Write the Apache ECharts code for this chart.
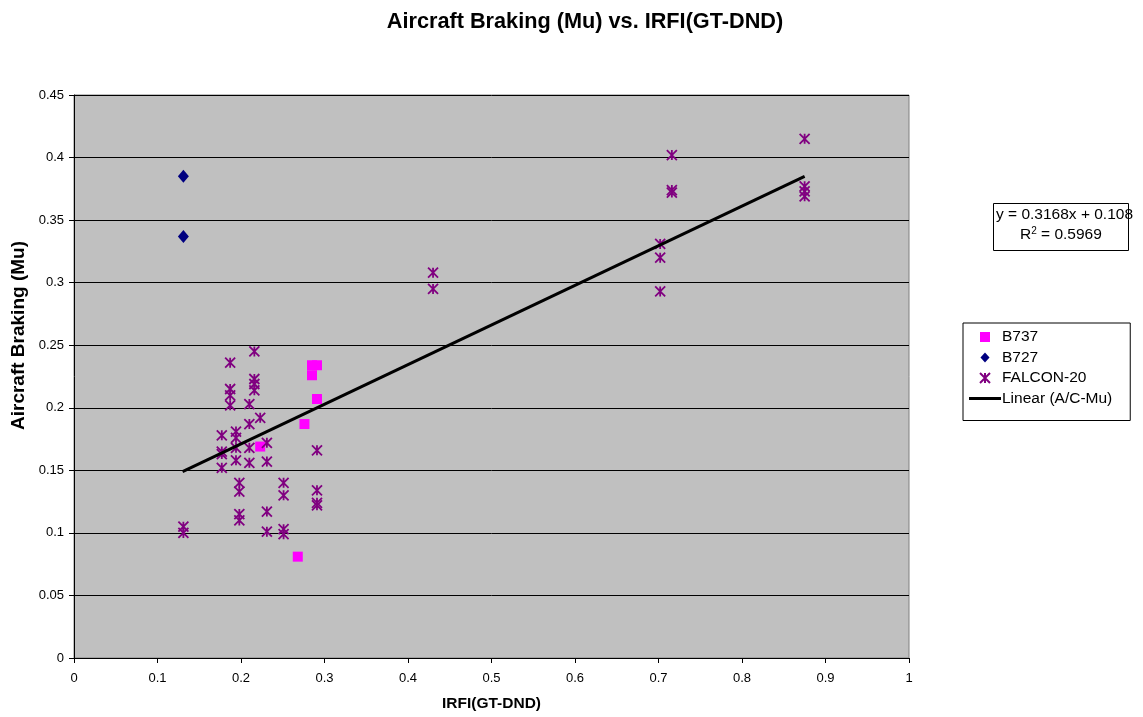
<!DOCTYPE html>
<html>
<head>
<meta charset="utf-8">
<script src="https://cdn.jsdelivr.net/npm/echarts@6/dist/echarts.min.js"></script>
<style>
html,body{margin:0;padding:0;background:#fff;}
#chart{width:1143px;height:717px;}
</style>
</head>
<body>
<div id="chart"></div>
<script>
const b737X = [0.285, 0.291, 0.285, 0.291, 0.276, 0.223, 0.268];
const b737Y = [0.234, 0.234, 0.226, 0.207, 0.187, 0.169, 0.081];

const b727X = [0.131, 0.131];
const b727Y = [0.385, 0.337];

const falconX = [0.131, 0.131, 0.187, 0.187, 0.187, 0.187, 0.177, 0.177, 0.177, 0.177,
  0.194, 0.194, 0.194, 0.194, 0.198, 0.198, 0.198, 0.198, 0.210, 0.210,
  0.210, 0.210, 0.216, 0.216, 0.216, 0.216, 0.223, 0.231, 0.231, 0.231,
  0.231, 0.251, 0.251, 0.251, 0.251, 0.291, 0.291, 0.291, 0.291, 0.430,
  0.430, 0.702, 0.702, 0.702, 0.716, 0.716, 0.716, 0.875, 0.875, 0.875, 0.875];
const falconY = [0.105, 0.100, 0.236, 0.215, 0.210, 0.202, 0.178, 0.165, 0.163, 0.152,
  0.181, 0.176, 0.168, 0.158, 0.140, 0.133, 0.115, 0.110, 0.203, 0.187,
  0.168, 0.156, 0.245, 0.223, 0.219, 0.214, 0.192, 0.172, 0.157, 0.117,
  0.101, 0.140, 0.130, 0.103, 0.099, 0.166, 0.134, 0.124, 0.122, 0.308,
  0.295, 0.331, 0.320, 0.293, 0.402, 0.374, 0.372, 0.415, 0.377, 0.373, 0.369];

const trendX = [0.13, 0.875];
const trendY = [0.149, 0.385];

const eqLine1 = 'y = 0.3168x + 0.108';
const eqR2 = '0.5969';

const pairs = (xs, ys) => xs.map((x, i) => [x, ys[i]]);

const asterisk = 'path://M0,0L10,10M10,0L0,10M5,0L5,10M0,5M10,5';
const FONT = 'Liberation Sans, Arial, sans-serif';

const chart = echarts.init(document.getElementById('chart'), null, {renderer: 'canvas'});
chart.setOption({
  animation: false,
  backgroundColor: '#ffffff',
  textStyle: {fontFamily: FONT},
  title: {
    text: 'Aircraft Braking (Mu) vs. IRFI(GT-DND)',
    left: 580, top: 6, textAlign: 'center',
    textStyle: {fontFamily: FONT, fontSize: 21.7, fontWeight: 'bold', color: '#000'}
  },
  grid: {
    left: 74, top: 95, width: 835, height: 564,
    show: true, backgroundColor: '#C0C0C0', borderColor: '#808080', borderWidth: 1
  },
  xAxis: {
    type: 'value', min: 0, max: 1, interval: 0.1,
    name: 'IRFI(GT-DND)', nameLocation: 'middle', nameGap: 38,
    nameTextStyle: {fontFamily: FONT, fontSize: 15.5, fontWeight: 'bold', color: '#000'},
    axisLine: {show: true, onZero: false, lineStyle: {color: '#000', width: 1}},
    axisTick: {show: true, length: 5, inside: false, lineStyle: {color: '#000'}},
    axisLabel: {fontFamily: FONT, fontSize: 13, color: '#000', margin: 14},
    splitLine: {show: false}
  },
  yAxis: {
    type: 'value', min: 0, max: 0.45, interval: 0.05,
    name: 'Aircraft Braking (Mu)', nameLocation: 'middle', nameGap: 46, nameRotate: 90,
    nameTextStyle: {fontFamily: FONT, fontSize: 19, fontWeight: 'bold', color: '#000',
      padding: [0, 0, 0, 82]},
    axisLine: {show: true, onZero: false, lineStyle: {color: '#000', width: 1}},
    axisTick: {show: true, length: 5, lineStyle: {color: '#000'}},
    axisLabel: {fontFamily: FONT, fontSize: 13, color: '#000', margin: 10,
      formatter: v => String(parseFloat(v.toFixed(2)))},
    splitLine: {show: true, lineStyle: {color: '#000', width: 1}}
  },
  legend: {
    orient: 'vertical', left: 963, top: 323,
    itemWidth: 32, itemHeight: 10, itemGap: 4.5,
    padding: [6, 18, 14, 6],
    borderColor: '#000', borderWidth: 1, backgroundColor: '#fff',
    textStyle: {fontFamily: FONT, fontSize: 15.5, color: '#000', padding: [0, 0, 0, -4]},
    data: [
      {name: 'B737', icon: 'path://M0,0L9,0L9,9L0,9Z'},
      {name: 'B727', icon: 'path://M5,0L10,5.5L5,11L0,5.5Z'},
      {name: 'FALCON-20'},
      {name: 'Linear (A/C-Mu)', icon: 'path://M0,0M0,3.5L32,3.5L32,6.5L0,6.5ZM32,10'}
    ]
  },
  graphic: [
    {type: 'rect', left: 993, top: 203, shape: {width: 135, height: 47},
      style: {fill: '#fff', stroke: '#000', lineWidth: 1}, z: 100},
    {type: 'text', left: 996, top: 207, z: 101,
      style: {text: eqLine1, font: '15.5px ' + FONT, fill: '#000'}},
    {type: 'text', left: 1020, top: 226, z: 101,
      style: {text: '{n|R}{s|2}{n| = ' + eqR2 + '}', fill: '#000',
        rich: {n: {fontFamily: FONT, fontSize: 15.5, verticalAlign: 'bottom'},
               s: {fontFamily: FONT, fontSize: 10, verticalAlign: 'top', padding: [0, 0, 7, 0]}}}}
  ],
  series: [
    {name: 'B737', type: 'scatter', data: pairs(b737X, b737Y),
      symbol: 'rect', symbolSize: 10, itemStyle: {color: '#FF00FF', opacity: 1}, z: 3},
    {name: 'B727', type: 'scatter', data: pairs(b727X, b727Y),
      symbol: 'diamond', symbolSize: [11, 13], itemStyle: {color: '#000080', opacity: 1}, z: 3},
    {name: 'FALCON-20', type: 'scatter', data: pairs(falconX, falconY),
      symbol: asterisk, symbolSize: 10,
      itemStyle: {color: 'rgba(0,0,0,0)', borderColor: '#800080', borderWidth: 1.8, opacity: 1}, z: 3},
    {name: 'Linear (A/C-Mu)', type: 'line', data: pairs(trendX, trendY),
      symbol: 'none', showSymbol: false,
      lineStyle: {color: '#000', width: 3}, itemStyle: {color: '#000'}, z: 4}
  ]
});
</script>
</body>
</html>
